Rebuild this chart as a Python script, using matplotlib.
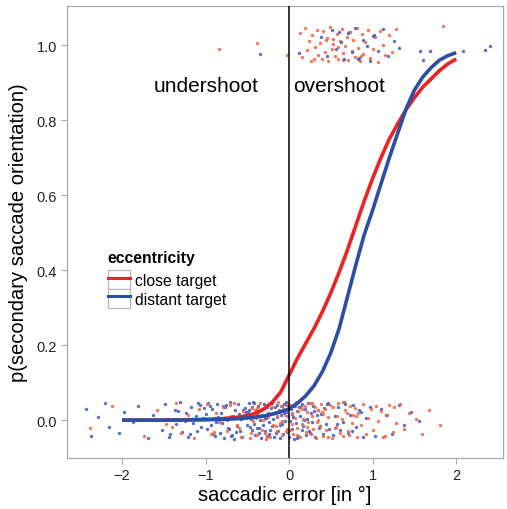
import matplotlib
matplotlib.use("Agg")
import matplotlib.pyplot as plt
from matplotlib.lines import Line2D
from matplotlib.patches import Rectangle

plt.rcParams['font.family'] = ['Liberation Sans', 'DejaVu Sans']

# fitted curves
curve_x = [-2.0, -1.5, -1.0, -0.8, -0.6, -0.5, -0.4, -0.3, -0.2, -0.1, 0.0,
           0.1, 0.2, 0.3, 0.4, 0.5, 0.6, 0.7, 0.8, 0.9, 1.0,
           1.1, 1.2, 1.3, 1.4, 1.5, 1.6, 1.7, 1.8, 1.9, 2.0]
close_y = [0.000, 0.000, 0.002, 0.004, 0.008, 0.012, 0.018, 0.030, 0.048, 0.075, 0.120,
           0.165, 0.205, 0.245, 0.290, 0.340, 0.395, 0.455, 0.520, 0.585, 0.645,
           0.700, 0.750, 0.790, 0.828, 0.860, 0.888, 0.910, 0.932, 0.950, 0.963]
distant_y = [0.000, 0.000, 0.001, 0.002, 0.004, 0.006, 0.008, 0.011, 0.016, 0.022, 0.030,
             0.045, 0.065, 0.092, 0.130, 0.180, 0.245, 0.330, 0.415, 0.495, 0.560,
             0.630, 0.700, 0.765, 0.830, 0.880, 0.915, 0.940, 0.960, 0.972, 0.980]

# single trials (jittered around 0 and 1)
blue_low_x = [-2.43, -2.37, -2.29, -2.21, -2.16, -2.04, -1.98, -1.87, -1.81, -1.69, -1.63, -1.52,
              -1.49, -1.45, -1.42, -1.37, -1.35, -1.31, -1.28, -1.23, -1.21, -1.17, -1.15,
              -1.12, -1.10, -1.07, -1.06, -1.03, -1.02, -1.44, -1.33, -1.25, -1.19, -1.09,
              -0.99, -0.98, -0.95, -0.94, -0.92, -0.89, -0.88, -0.86, -0.83, -0.82,
              -0.80, -0.78, -0.77, -0.74, -0.73, -0.71, -0.68, -0.67, -0.65, -0.62,
              -0.61, -0.59, -0.57, -0.56, -0.53, -0.52, -0.51, -0.97, -0.91, -0.85,
              -0.79, -0.72, -0.66, -0.60, -0.55, -0.87, -0.76, -0.64, -0.54, -0.69,
              -0.49, -0.48, -0.47, -0.46, -0.45, -0.44, -0.43, -0.42, -0.41, -0.40,
              -0.39, -0.38, -0.37, -0.36, -0.35, -0.34, -0.33, -0.32, -0.31, -0.30,
              -0.29, -0.28, -0.27, -0.26, -0.25, -0.24, -0.23, -0.22, -0.21, -0.20,
              -0.19, -0.18, -0.17, -0.16, -0.15, -0.14, -0.13, -0.12, -0.11, -0.10,
              -0.09, -0.08, -0.07, -0.06, -0.05, -0.04, -0.03, -0.02, -0.01, -0.005,
              -0.475, -0.415, -0.355, -0.285, -0.235, -0.165, -0.115, -0.065, -0.035, -0.255,
              0.01, 0.02, 0.03, 0.04, 0.06, 0.07, 0.08, 0.09, 0.11, 0.12,
              0.13, 0.15, 0.16, 0.17, 0.19, 0.20, 0.22, 0.23, 0.25, 0.26,
              0.28, 0.29, 0.31, 0.33, 0.34, 0.36, 0.38, 0.40, 0.42, 0.44,
              0.46, 0.48, 0.05, 0.10, 0.14, 0.18, 0.24, 0.30, 0.37, 0.45,
              0.52, 0.55, 0.58, 0.61, 0.64, 0.67, 0.70, 0.73, 0.77, 0.80,
              0.84, 0.88, 0.92, 0.97, 0.57, 0.66, 0.75, 0.86,
              1.03, 1.10, 1.16, 1.23, 1.31, 1.38, 1.46, 1.55]
blue_low_y = [0.031, -0.042, 0.008, 0.046, -0.017, -0.035, 0.022, -0.004, 0.039, -0.048,
              0.014, -0.026, 0.044, 0.002, -0.038, 0.027, -0.011, 0.049, -0.031, 0.018,
              -0.045, 0.036, -0.007, 0.011, -0.029, 0.041, -0.019, 0.005, 0.033, -0.046,
              0.024, -0.002, -0.036, 0.047, 0.016, -0.023, 0.038, -0.013, 0.029, -0.041,
              0.007, 0.043, -0.033, 0.019, -0.008, -0.047, 0.035, 0.001, -0.021, 0.048,
              -0.039, 0.012, 0.026, -0.015, 0.042, -0.028, 0.004, -0.044, 0.032, 0.021,
              -0.012, 0.045, -0.037, 0.009, 0.037, -0.024, -0.049, 0.017, 0.028, -0.006,
              0.040, -0.032, 0.013, -0.043, 0.023, 0.046, -0.018, 0.003, -0.027, 0.034,
              0.048, -0.009, -0.040, 0.025, -0.022, 0.010, 0.039, -0.034, 0.000, -0.047,
              0.030, 0.015, -0.014, 0.044, -0.030, 0.006, -0.041, 0.036, 0.020, -0.005,
              -0.025, 0.032, 0.047, -0.016, 0.003, -0.044, 0.018, -0.035, 0.041, 0.009,
              -0.028, 0.026, -0.048, 0.014, 0.037, -0.010, -0.038, 0.043, -0.003, 0.022,
              0.040, -0.031, 0.011, -0.046, 0.028, 0.045, -0.020, 0.006, -0.036, 0.034,
              -0.013, 0.019, 0.049, -0.042, -0.001, 0.031, -0.024, 0.016, -0.049, 0.038,
              -0.008, 0.024, -0.043, 0.035, 0.012, -0.027, 0.042, -0.015, 0.029, -0.039,
              0.004, 0.047, -0.033, 0.020, -0.006, 0.038, -0.045, 0.013, 0.027, -0.021,
              0.017, -0.037, 0.033, -0.011, 0.046, -0.023, 0.008, -0.048, 0.039, 0.001,
              -0.030, 0.025, -0.016, 0.043, -0.040, 0.010, 0.036, -0.026, -0.004, 0.044,
              -0.034, 0.013, 0.041, -0.019, 0.027, -0.045, 0.005, 0.034, -0.009, 0.048,
              -0.029, 0.021, -0.042, 0.030, 0.015, -0.036, 0.040, -0.014, 0.023, -0.002]

red_low_x = [-2.38, -2.12, -1.91, -1.74, -1.58,
             -1.47, -1.36, -1.29, -1.21, -1.14, -1.08, -1.03, -1.40,
             -0.98, -0.93, -0.88, -0.84, -0.79, -0.74, -0.70, -0.66, -0.62, -0.58,
             -0.55, -0.52, -0.90, -0.71, -0.60,
             -0.49, -0.47, -0.45, -0.43, -0.41, -0.39, -0.37, -0.35, -0.33, -0.31,
             -0.29, -0.27, -0.25, -0.23, -0.21, -0.19, -0.17, -0.15, -0.13, -0.11,
             -0.09, -0.07, -0.05, -0.03, -0.01, -0.46, -0.40, -0.34, -0.28, -0.22,
             -0.16, -0.10, -0.04, -0.02, -0.14, -0.26, -0.38, -0.08,
             0.01, 0.02, 0.04, 0.05, 0.07, 0.08, 0.10, 0.11, 0.13, 0.14,
             0.16, 0.17, 0.19, 0.20, 0.22, 0.23, 0.25, 0.26, 0.28, 0.29,
             0.31, 0.32, 0.34, 0.35, 0.37, 0.38, 0.40, 0.41, 0.43, 0.44,
             0.46, 0.47, 0.49, 0.03, 0.09, 0.15, 0.21, 0.27, 0.33, 0.39,
             0.51, 0.53, 0.55, 0.57, 0.59, 0.61, 0.63, 0.65, 0.67, 0.69,
             0.71, 0.73, 0.75, 0.77, 0.79, 0.81, 0.83, 0.86, 0.89, 0.92,
             0.95, 0.98, 0.56, 0.64, 0.72, 0.80,
             1.01, 1.04, 1.07, 1.10, 1.13, 1.17, 1.20, 1.24, 1.28, 1.33,
             1.38, 1.44, 1.15, 1.26, 1.52, 1.59, 1.68, 1.81]
red_low_y = [-0.022, 0.038, 0.004, -0.041, 0.027, -0.009, 0.046, -0.033, 0.015, -0.047,
             0.031, 0.002, -0.018, 0.043, -0.036, 0.020, -0.005, 0.035, -0.028, 0.010,
             0.047, -0.014, -0.044, 0.024, 0.006, -0.031, 0.040, -0.021, 0.013, -0.048,
             0.033, -0.003, 0.028, -0.039, 0.018, 0.045, -0.025, 0.001, -0.035, 0.039,
             0.009, -0.046, 0.036, -0.012, 0.022, -0.029, 0.048, -0.007, -0.040, 0.030,
             0.014, -0.023, 0.042, -0.034, 0.005, 0.026, -0.049, 0.017, -0.016, 0.037,
             -0.030, 0.044, 0.011, -0.043, 0.032, -0.002, -0.026, 0.041, 0.019, -0.038,
             0.007, 0.049, -0.020, 0.025, -0.045, 0.034, -0.010, 0.003, 0.039, -0.032,
             0.021, -0.006, 0.046, -0.037, 0.012, -0.024, 0.035, -0.047, 0.028, 0.000,
             -0.015, 0.043, -0.041, 0.016, 0.031, -0.027, 0.008, -0.044, 0.040, -0.011,
             -0.039, 0.029, -0.017, 0.045, -0.004, 0.023, -0.048, 0.036, -0.021, 0.011,
             0.047, -0.033, 0.002, -0.042, 0.027, 0.018, -0.029, 0.038, -0.008, 0.014,
             0.033, -0.045, 0.020, -0.013, 0.042, -0.036, 0.006, 0.030, -0.019, 0.048,
             -0.040, 0.010, -0.026, 0.037, -0.001, 0.024, -0.046, 0.015, 0.041, -0.031,
             -0.007, 0.044, -0.023, 0.019, -0.043, 0.034, 0.003, -0.037, 0.026, -0.012]

red_high_x = [0.13, 0.16, 0.19, 0.21, 0.24, 0.26, 0.28, 0.31, 0.33, 0.35,
              0.37, 0.39, 0.41, 0.43, 0.45, 0.47, 0.49, 0.51, 0.53, 0.55,
              0.57, 0.59, 0.61, 0.63, 0.65, 0.67, 0.69, 0.71, 0.73, 0.75,
              0.77, 0.79, 0.81, 0.83, 0.85, 0.87, 0.89, 0.91, 0.94, 0.97,
              1.00, 1.03, 1.06, 1.09, 1.12, 1.15, 1.19, 1.23, 1.28, 0.30,
              0.44, 0.58, 0.72, 0.86, 0.52, 0.64,
              -0.84, -0.38, -0.03, 1.84]
red_high_y = [1.032, 0.968, 1.045, 0.987, 1.012, 0.959, 1.026, 0.995, 1.041, 0.975,
              1.006, 0.962, 1.037, 0.982, 1.019, 0.957, 1.048, 0.991, 1.003, 0.971,
              1.029, 0.964, 1.010, 1.043, 0.979, 0.998, 1.023, 0.960, 1.035, 0.985,
              1.015, 0.969, 1.046, 0.993, 0.958, 1.031, 0.977, 1.008, 1.040, 0.966,
              0.989, 1.021, 0.956, 1.038, 1.001, 0.973, 1.027, 0.983, 1.044, 0.963,
              1.013, 0.996, 1.034, 0.970, 1.017, 0.961,
              0.990, 1.005, 0.973, 1.050]

blue_high_x = [0.38, 0.45, 0.51, 0.56, 0.62, 0.66, 0.71, 0.75, 0.79, 0.84, 0.88,
               0.93, 0.97, 1.02, 1.07, 1.12, 1.18, 1.25, 1.32, 0.60, 0.82, 1.00,
               -0.35, 0.12, 1.57, 1.60, 1.69, 2.08, 2.34, 2.40]
blue_high_y = [1.021, 0.972, 1.040, 0.990, 1.008, 0.962, 1.033, 0.981, 1.046, 0.967, 1.015,
               0.997, 0.959, 1.028, 0.985, 1.043, 0.970, 1.011, 0.993, 1.036, 0.964, 1.024,
               0.976, 0.980, 0.985, 0.960, 0.985, 0.985, 0.988, 0.998]

red_line = '#ee2222'
blue_line = '#2d4ea6'
red_dot = '#f26a48'
blue_dot = '#4a60c4'
grey = '#aaaaaa'

fig = plt.figure(figsize=(5.07, 5.10), dpi=100)
ax = fig.add_axes([0.132, 0.1, 0.860, 0.886])

dot = dict(s=6, alpha=0.9, lw=0, zorder=2)
ax.scatter(blue_low_x, blue_low_y, color=blue_dot, **dot)
ax.scatter(red_low_x, red_low_y, color=red_dot, **dot)
ax.scatter(red_high_x, red_high_y, color=red_dot, **dot)
ax.scatter(blue_high_x, blue_high_y, color=blue_dot, **dot)

ax.plot(curve_x, close_y, color=red_line, lw=2.6, zorder=3, solid_capstyle='butt')
ax.plot(curve_x, distant_y, color=blue_line, lw=2.6, zorder=3, solid_capstyle='butt')
ax.axvline(0, color='black', lw=1.1, zorder=4)

ax.text(-1.0, 0.877, 'undershoot', ha='center', va='baseline', fontsize=15)
ax.text(0.6, 0.877, 'overshoot', ha='center', va='baseline', fontsize=15)

ax.set_xlim(-2.66, 2.56)
ax.set_ylim(-0.101, 1.104)
ax.set_xticks([-2, -1, 0, 1, 2])
ax.set_yticks([0.0, 0.2, 0.4, 0.6, 0.8, 1.0])
ax.set_yticklabels(['0.0', '0.2', '0.4', '0.6', '0.8', '1.0'])
ax.tick_params(direction='out', length=4, width=0.8, color=grey,
               labelsize=10.5, labelcolor='#222222', pad=3)
for s in ax.spines.values():
    s.set_color(grey)
    s.set_linewidth(0.9)

ax.set_xlabel('saccadic error [in °]', fontsize=14.5, labelpad=2)
ax.set_ylabel('p(secondary saccade orientation)', fontsize=14.5, labelpad=6)

box = lambda: Rectangle((0, 0), 1, 1, facecolor='white', edgecolor='#b8b8b8', lw=0.9)
handles = [(box(), Line2D([], [], color=red_line, lw=2.2)),
           (box(), Line2D([], [], color=blue_line, lw=2.2))]
leg = ax.legend(handles, ['close target', 'distant target'], title='eccentricity',
                loc='upper left', bbox_to_anchor=(0.0757, 0.478), frameon=False,
                fontsize=11.3, title_fontproperties={'weight': 'bold', 'size': 11.3},
                handlelength=1.4, handleheight=1.45, handletextpad=0.35,
                labelspacing=0.0, borderpad=0.0, alignment='left')
leg._legend_box.sep = 4

fig.savefig('out.png', dpi=100)
